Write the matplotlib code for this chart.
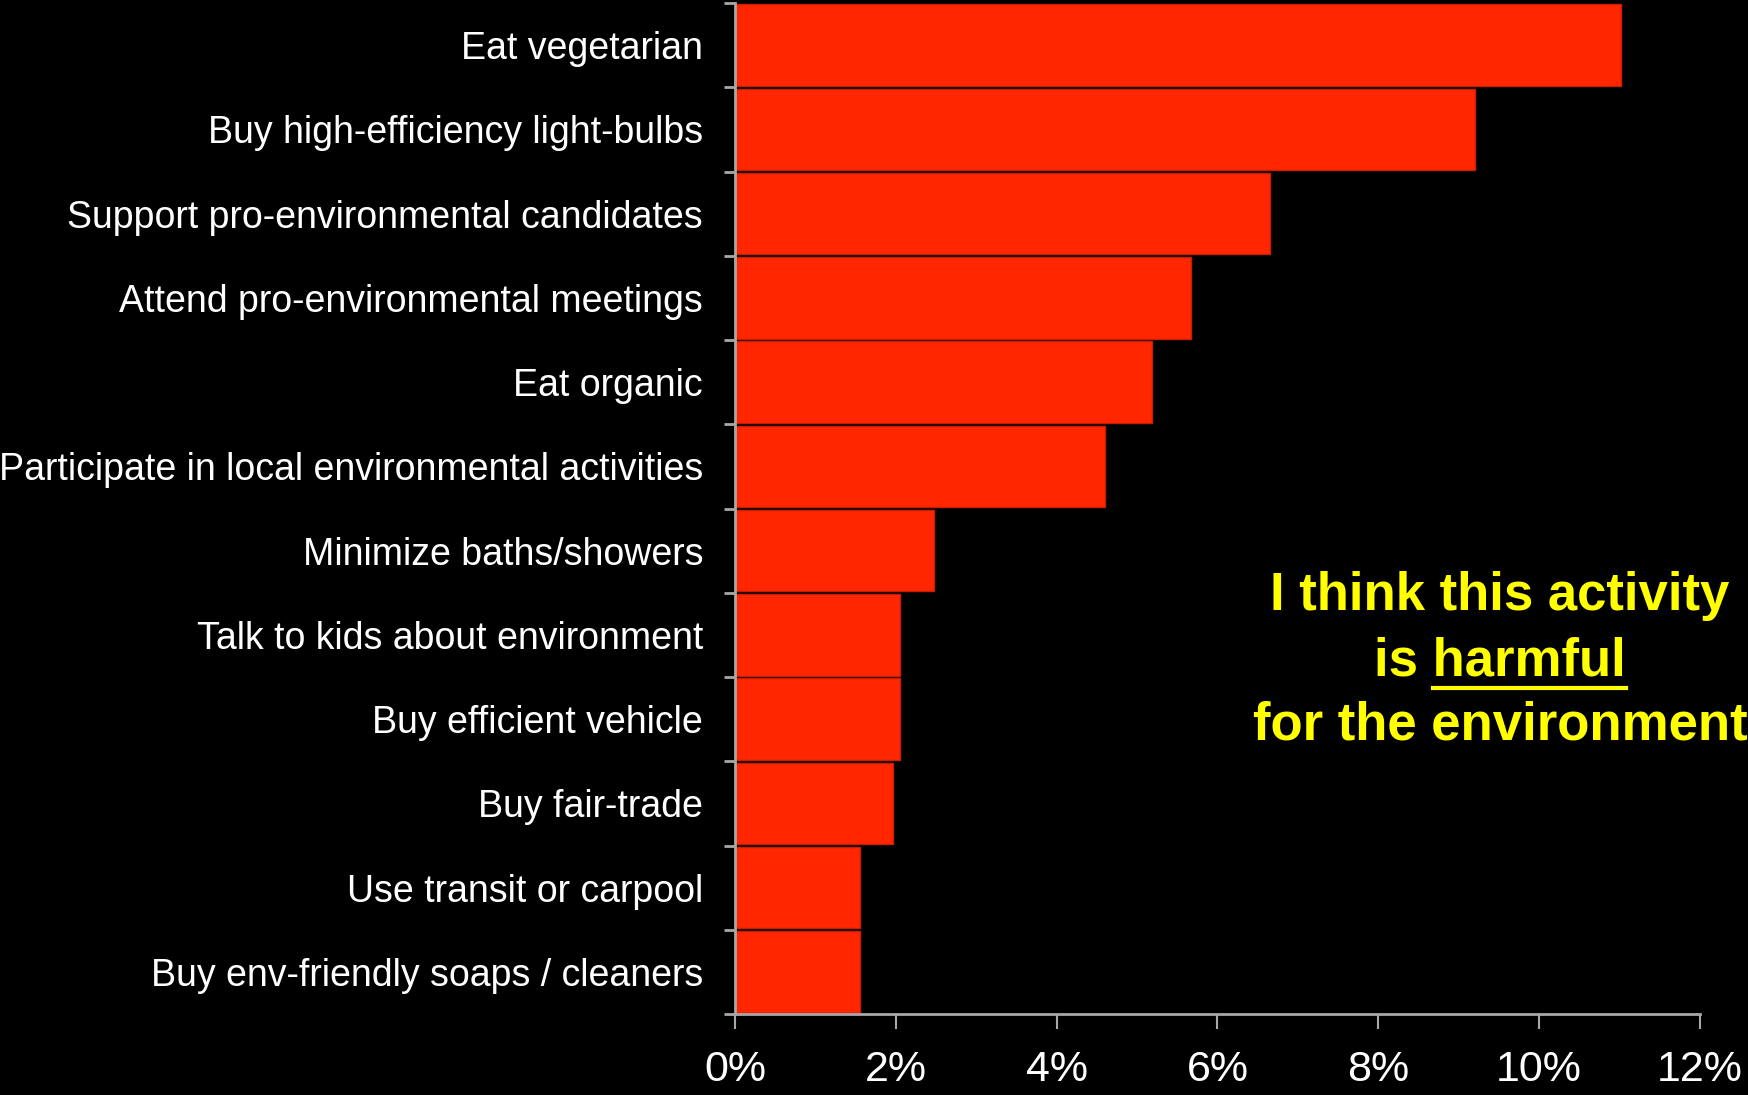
import matplotlib
matplotlib.use("Agg")
import matplotlib.pyplot as plt
from matplotlib import font_manager as fm
from matplotlib.lines import Line2D

categories = [
    "Eat vegetarian",
    "Buy high-efficiency light-bulbs",
    "Support pro-environmental candidates",
    "Attend pro-environmental meetings",
    "Eat organic",
    "Participate in local environmental activities",
    "Minimize baths/showers",
    "Talk to kids about environment",
    "Buy efficient vehicle",
    "Buy fair-trade",
    "Use transit or carpool",
    "Buy env-friendly soaps / cleaners",
]
values = [11.02, 9.20, 6.65, 5.67, 5.18, 4.60, 2.47, 2.05, 2.05, 1.97, 1.55, 1.55]
xticks = [0, 2, 4, 6, 8, 10, 12]
xtick_labels = ["0%", "2%", "4%", "6%", "8%", "10%", "12%"]

names = {f.name for f in fm.fontManager.ttflist}
base = "Liberation Sans" if "Liberation Sans" in names else "DejaVu Sans"

W, H, DPI = 17.49, 10.95, 100
fig = plt.figure(figsize=(W, H), dpi=DPI, facecolor="black")
ax = fig.add_axes([735 / 1749, 1 - 1014 / 1095, (1700 - 735) / 1749, (1014 - 3) / 1095])
ax.set_facecolor("black")

y = list(range(len(categories)))
ax.barh(y, values, height=0.97, color="#FF2600", edgecolor="#C81E00", linewidth=1)
ax.set_ylim(len(categories) - 0.5, -0.5)
ax.set_xlim(0, 12)

axis_col = "#A8A8A8"
for s in ["top", "right"]:
    ax.spines[s].set_visible(False)
for s in ["left", "bottom"]:
    ax.spines[s].set_color(axis_col)
    ax.spines[s].set_linewidth(2)

ax.set_yticks(y)
ax.set_yticklabels(categories, fontsize=27, color="white", family=base)
ax.tick_params(axis="y", which="major", length=0, pad=23)
ax.set_yticks([i - 0.5 for i in range(len(categories) + 1)], minor=True)
ax.tick_params(axis="y", which="minor", length=8, width=2, color=axis_col, direction="out")

ax.set_xticks(xticks)
ax.set_xticklabels(xtick_labels, fontsize=31, color="white", family=base)
ax.tick_params(axis="x", which="major", length=11, width=1.5, color=axis_col, direction="out", pad=15)

# annotation
cx = 1500 / 1749
lines_y = [596, 661, 725]
tk = dict(color="#FFFF00", fontsize=38, fontweight="bold", family=base, ha="center", va="center")
fig.text(cx, 1 - lines_y[0] / 1095, "I think this activity", **tk)
t2 = fig.text(cx, 1 - lines_y[1] / 1095, "is harmful", **tk)
fig.text(cx, 1 - lines_y[2] / 1095, "for the environment", **tk)

fig.canvas.draw()
r = fig.canvas.get_renderer()
bb = t2.get_window_extent(r)
tmp = fig.text(0, 0, "harmful", **{k: v for k, v in tk.items() if k not in ("ha", "va")})
wb = tmp.get_window_extent(r)
tmp.remove()
x1 = bb.x1 / (W * DPI)
x0 = (bb.x1 - wb.width) / (W * DPI)
yl = (bb.y0 - 2) / (H * DPI)
fig.add_artist(Line2D([x0, x1], [yl, yl], transform=fig.transFigure, color="#FFFF00", linewidth=3))

fig.savefig("out.png", dpi=DPI, facecolor="black")
